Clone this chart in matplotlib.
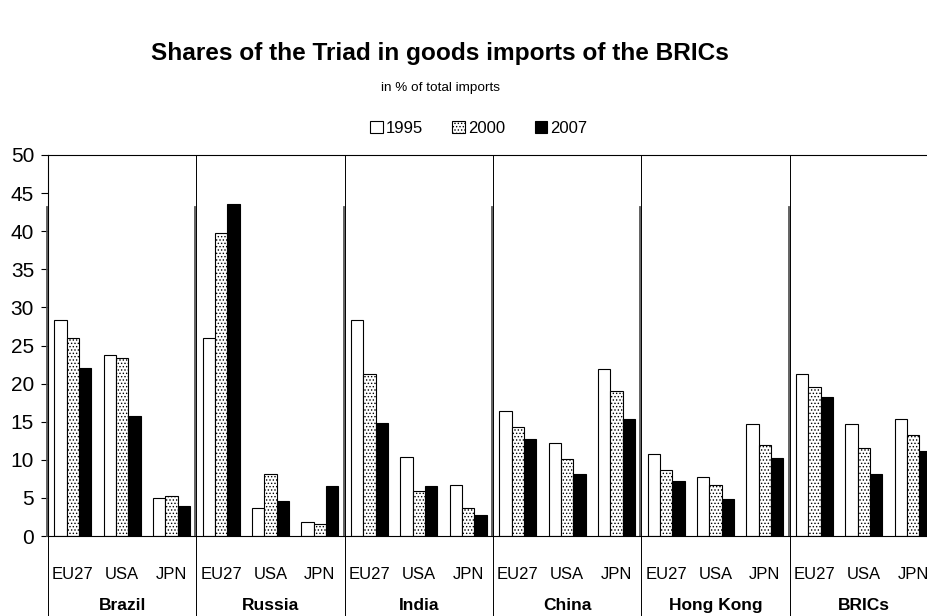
import numpy as np
import matplotlib
matplotlib.use("Agg")
import matplotlib.pyplot as plt
from matplotlib.patches import Patch
import matplotlib.transforms as mtransforms

plt.rcParams['font.family'] = ['Liberation Sans', 'DejaVu Sans']
plt.rcParams['hatch.linewidth'] = 0.6

groups = ["Brazil", "Russia", "India", "China", "Hong Kong", "BRICs"]
partners = ["EU27", "USA", "JPN"]
years = ["1995", "2000", "2007"]

# values, order: group x partner
v1995 = [28.3, 23.8, 5.0,  26.0, 3.7, 1.9,  28.3, 10.4, 6.7,
         16.4, 12.2, 21.9,  10.8, 7.8, 14.7,  21.2, 14.7, 15.4]
v2000 = [26.0, 23.3, 5.3,  39.7, 8.1, 1.6,  21.2, 5.9, 3.7,
         14.3, 10.1, 19.0,  8.7, 6.7, 12.0,  19.6, 11.5, 13.2]
v2007 = [22.1, 15.7, 3.9,  43.6, 4.6, 6.5,  14.8, 6.5, 2.8,
         12.7, 8.1, 15.4,  7.2, 4.8, 10.2,  18.2, 8.1, 11.1]

fig = plt.figure(figsize=(9.28, 6.16), dpi=100)
# right edge runs past the figure, like the original crop
ax = fig.add_axes([48/928, 80/616, 890/928, 381/616])

x = np.arange(len(v1995))
w = 0.25
ax.bar(x - w, v1995, w, facecolor='white', edgecolor='black', linewidth=0.8, label="1995")
ax.bar(x, v2000, w, facecolor='white', edgecolor='black', linewidth=0.8, hatch='.....', label="2000")
ax.bar(x + w, v2007, w, facecolor='black', edgecolor='black', linewidth=0.8, label="2007")

ax.set_xlim(-0.5, len(x) - 0.5)
ax.set_ylim(0, 50)
ax.set_yticks(range(0, 51, 5))
ax.tick_params(axis='y', labelsize=15, length=5, width=0.8, direction='out', pad=5)
ax.set_xticks(x)
ax.set_xticklabels(partners * len(groups), fontsize=12)
ax.tick_params(axis='x', length=0, pad=22)
for s in ax.spines.values():
    s.set_linewidth(0.8)

# group separators, running down to the group names
trans = mtransforms.blended_transform_factory(ax.transData, ax.transAxes)
for i in range(len(groups) + 1):
    xs = i * 3 - 0.5
    ax.plot([xs, xs], [1, -0.3], transform=trans, color='black', lw=0.7, clip_on=False)
    ax.plot([xs - 0.02, xs - 0.02], [0, 43.2 / 50], transform=trans, color='#555555', lw=1.3, clip_on=False)
for i, g in enumerate(groups):
    ax.text(i * 3 + 1, -0.183, g, transform=trans, ha='center', va='center',
            fontsize=12.5, fontweight='bold')

fig.text(0.474, 0.913, "Shares of the Triad in goods imports of the BRICs",
         ha='center', va='center', fontsize=17.6, fontweight='bold')
fig.text(0.475, 0.857, "in % of total imports", ha='center', va='center', fontsize=9.7)

handles = [Patch(facecolor='white', edgecolor='black', lw=0.8),
           Patch(facecolor='white', edgecolor='black', lw=0.8, hatch='.....'),
           Patch(facecolor='black', edgecolor='black', lw=0.8)]
fig.legend(handles, years, loc='center', bbox_to_anchor=(0.516, 0.792), ncol=3,
           frameon=False, fontsize=12, handlelength=0.75, handleheight=0.75,
           handletextpad=0.2, columnspacing=1.75)

fig.savefig("out.png", dpi=100)
